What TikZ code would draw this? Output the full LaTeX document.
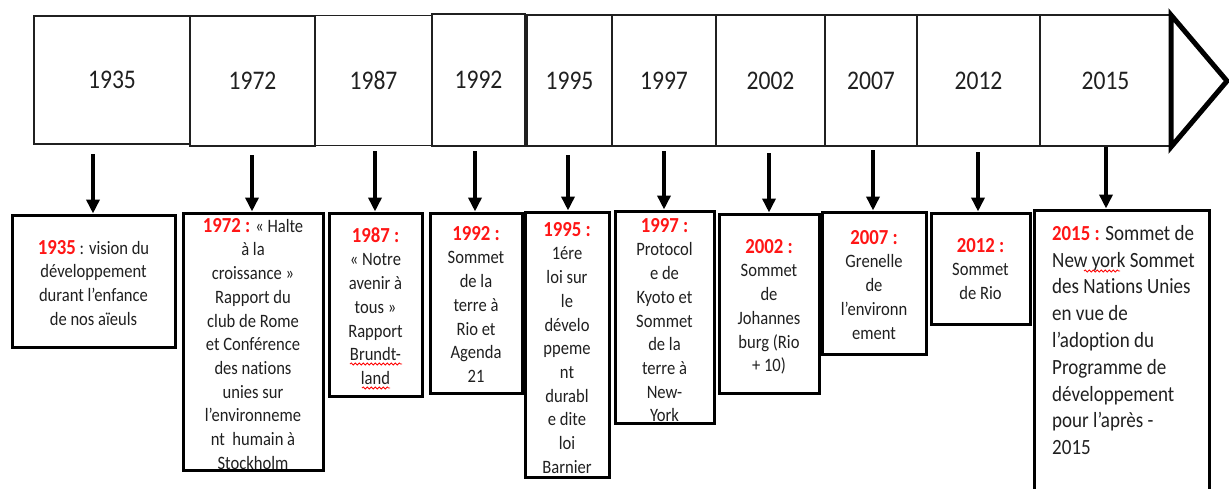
\documentclass[tikz,border=0pt]{standalone}
\usepackage{fontspec}
\setmainfont{Carlito}[FakeStretch=0.877, Ligatures={NoCommon}]
\usetikzlibrary{arrows.meta,decorations.pathmorphing}
\definecolor{labred}{RGB}{255,22,22}
\definecolor{ink}{RGB}{32,32,32}
\newcommand{\lab}[1]{{\fontsize{21.4}{23.7}\selectfont\bfseries\color{labred}#1}}
\newcommand{\mystrut}{\rule{0pt}{15.5pt}}
\begin{document}
\begin{tikzpicture}[x=1pt,y=-1pt,
  yearbox/.style={draw=ink, line width=1.4pt, inner sep=0pt, text=ink,
    font=\fontsize{26.9}{30}\selectfont},
  evbox/.style={draw=black, line width=3pt, inner sep=0pt},
  evtext/.style={anchor=north, inner sep=0pt, align=center, text=ink,
    font=\fontsize{18.9}{23.7}\selectfont},
  evtextwide/.style={anchor=north west, inner sep=0pt, align=left, text=ink,
    font=\fontsize{21.7}{26.8}\selectfont},
  arr/.style={draw=black, line width=3.5pt, -{Triangle[width=13pt,length=14pt]}},
  spell/.style={draw=red, line width=0.8pt, decorate,
    decoration={snake, amplitude=1.1pt, segment length=4pt}}]
\useasboundingbox (0,0) rectangle (1229,488);
\fill[white] (0,0) rectangle (1229,488);

% top timeline boxes
\node[yearbox, minimum width=156pt, minimum height=128pt] (t1935) at (112,80) {1935};
\node[yearbox, minimum width=125pt, minimum height=130pt] (t1972) at (252.5,81) {1972};
\node[yearbox, minimum width=117pt, minimum height=130pt] (t1987) at (373.5,80.5) {1987};
\node[yearbox, minimum width=93pt, minimum height=132pt] (t1992) at (478.5,80) {1992};
\node[yearbox, minimum width=85pt, minimum height=131pt] (t1995) at (569.5,80.5) {1995};
\node[yearbox, minimum width=104pt, minimum height=131pt] (t1997) at (664,80.5) {1997};
\node[yearbox, minimum width=109pt, minimum height=131pt] (t2002) at (770.5,80.5) {2002};
\node[yearbox, minimum width=92pt, minimum height=131pt] (t2007) at (871,80.5) {2007};
\node[yearbox, minimum width=123pt, minimum height=131pt] (t2012) at (978.5,80.5) {2012};
\node[yearbox, minimum width=131pt, minimum height=131pt] (t2015) at (1105.5,80.5) {2015};

% arrow head of the timeline
\draw[line width=5pt, line join=miter] (1171,15) -- (1227,81) -- (1171,147) -- cycle;

% event boxes
\node[evbox, minimum width=163pt, minimum height=132pt] (b1935) at (93.5,281) {};
\node[evbox, minimum width=140pt, minimum height=257pt] (b1972) at (253,341.5) {};
\node[evbox, minimum width=93pt, minimum height=183pt] (b1987) at (375.5,304.5) {};
\node[evbox, minimum width=92pt, minimum height=180pt] (b1992) at (476,303) {};
\node[evbox, minimum width=84pt, minimum height=265pt] (b1995) at (567,344.5) {};
\node[evbox, minimum width=99pt, minimum height=212pt] (b1997) at (664.5,317) {};
\node[evbox, minimum width=100pt, minimum height=179pt] (b2002) at (769,303.5) {};
\node[evbox, minimum width=104pt, minimum height=142pt] (b2007) at (874,283) {};
\node[evbox, minimum width=99pt, minimum height=111pt] (b2012) at (980.5,268.5) {};
\node[evbox, minimum width=175pt, minimum height=285pt] (b2015) at (1121.5,352.5) {};

% event texts
\node[evtext] (x1935) at (93.5,238.5) {\mystrut\lab{1935} : vision du\\développement\\durant l’enfance\\de nos aïeuls};
\node[evtext] (x1972) at (253,216.5) {\mystrut\lab{1972 :} « Halte\\à la\\croissance »\\Rapport du\\club de Rome\\et Conférence\\des nations\\unies sur\\l’environneme\\nt\ \ humain à\\Stockholm};
\node[evtext] (x1987) at (375.5,226.5) {\mystrut\lab{1987 :}\\« Notre\\avenir à\\tous »\\Rapport\\Brundt-\\land};
\node[evtext] (x1992) at (476,224.5) {\mystrut\lab{1992 :}\\Sommet\\de la\\terre à\\Rio et\\Agenda\\21};
\node[evtext] (x1995) at (567,220.5) {\mystrut\lab{1995 :}\\1ére\\loi sur\\le\\dévelo\\ppeme\\nt\\durabl\\e dite\\loi\\Barnier};
\node[evtext] (x1997) at (664.5,216.5) {\mystrut\lab{1997 :}\\Protocol\\e de\\Kyoto et\\Sommet\\de la\\terre à\\New-\\York};
\node[evtext] (x2002) at (769,237.5) {\mystrut\lab{2002 :}\\Sommet\\de\\Johannes\\burg (Rio\\+ 10)};
\node[evtext] (x2007) at (874,228.5) {\mystrut\lab{2007 :}\\Grenelle\\de\\l’environn\\ement};
\node[evtext] (x2012) at (980.5,236.5) {\mystrut\lab{2012 :}\\Sommet\\de Rio};
\node[evtextwide] (x2015) at (1052,224.5) {\mystrut\lab{2015 :} Sommet de\\New york Sommet\\des Nations Unies\\en vue de\\l’adoption du\\Programme de\\développement\\pour l’après -\\2015};

% spell-check underlines
\draw[spell] (350,364) -- (402,364);
\draw[spell] (362,388) -- (390,388);
\draw[spell] (1084,271) -- (1120,271);

% connectors
\coordinate (a1935) at (93,154);
\coordinate (a1972) at (252,155);
\coordinate (a1987) at (375,151);
\coordinate (a1992) at (475,151);
\coordinate (a1995) at (568,155);
\coordinate (a1997) at (664,151);
\coordinate (a2002) at (769,153);
\coordinate (a2007) at (873,150);
\coordinate (a2012) at (978,152);
\coordinate (a2015) at (1106,147);
\draw[arr] (a1935) -- (a1935 |- b1935.north);
\draw[arr] (a1972) -- (a1972 |- b1972.north);
\draw[arr] (a1987) -- (a1987 |- b1987.north);
\draw[arr] (a1992) -- (a1992 |- b1992.north);
\draw[arr] (a1995) -- (a1995 |- b1995.north);
\draw[arr] (a1997) -- (a1997 |- b1997.north);
\draw[arr] (a2002) -- (a2002 |- b2002.north);
\draw[arr] (a2007) -- (a2007 |- b2007.north);
\draw[arr] (a2012) -- (a2012 |- b2012.north);
\draw[arr] (a2015) -- (a2015 |- b2015.north);
\end{tikzpicture}
\end{document}
